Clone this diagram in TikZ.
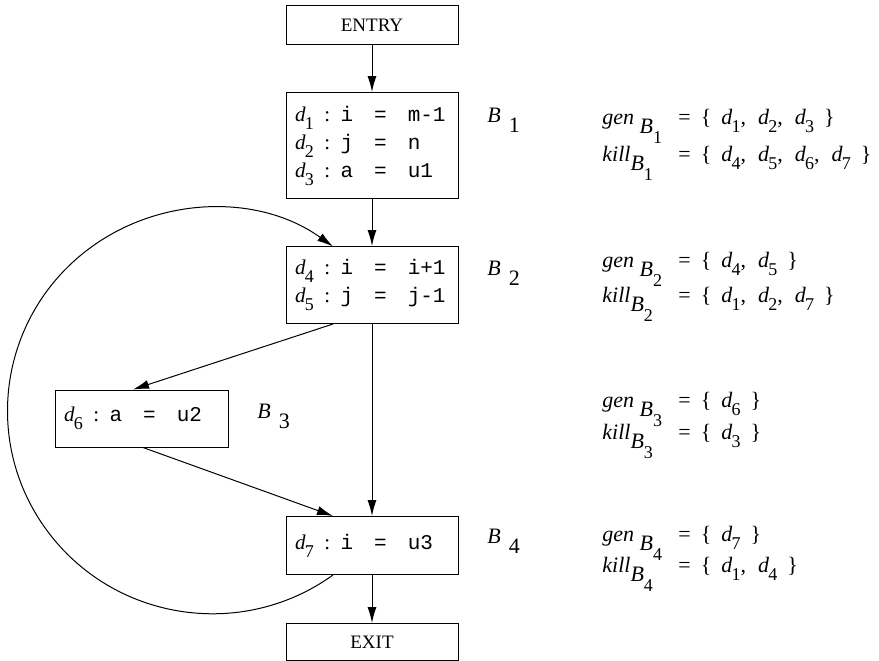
\documentclass[tikz,border=0pt]{standalone}
\usepackage{fontspec}
\setmainfont{Liberation Serif}
\setmonofont{Liberation Mono}
\usetikzlibrary{positioning,arrows.meta}
\newcommand{\dd}[1]{\textit{d}\kern-0.4pt\raisebox{-4pt}{\small #1}}
\newcommand{\subB}[1]{\raisebox{-4.5pt}{\textit{B}\raisebox{-5pt}{\small #1}}}
\newcommand{\blklabel}[1]{\textit{B}\hspace{4pt}\raisebox{-5pt}{#1}}
\newcommand{\setname}[1]{\makebox[38pt][l]{#1}}
\tikzset{
  blockbox/.style={rectangle, draw, line width=0.5pt, inner xsep=4.5pt, text width=77pt,
    align=left, font=\fontsize{10.5}{14}\selectfont},
  endbox/.style={rectangle, draw, line width=0.5pt, minimum width=86pt, minimum height=19.5pt,
    font=\fontsize{9.5}{11}\selectfont},
  flowarrow/.style={-{Latex[length=8pt,width=4.5pt]}, line width=0.5pt},
  rowtext/.style={anchor=base west, inner sep=0pt, font=\fontsize{11}{13}\selectfont}
}
\begin{document}
\begin{tikzpicture}[x=0.5pt, y=0.5pt]
  \useasboundingbox (0,0) rectangle (879,-660);
  % flow graph
  \node[endbox] (entry) at (372,-25) {ENTRY};
  \node[blockbox, minimum height=53pt, below=23.5pt of entry] (b1)
    {\dd{1}\enspace:\enspace\texttt{i\quad=\quad m-1}\\
     \dd{2}\enspace:\enspace\texttt{j\quad=\quad n}\\
     \dd{3}\enspace:\enspace\texttt{a\quad=\quad u1}};
  \node[blockbox, minimum height=38.5pt, below=23.5pt of b1] (b2)
    {\dd{4}\enspace:\enspace\texttt{i\quad=\quad i+1}\\
     \dd{5}\enspace:\enspace\texttt{j\quad=\quad j-1}};
  \node[blockbox, text width=77.5pt, minimum height=28.5pt] (b3) at (141.5,-418.5)
    {\dd{6}\enspace:\enspace\texttt{a\quad=\quad u2}};
  \node[blockbox, minimum height=29pt, below=96pt of b2] (b4)
    {\dd{7}\enspace:\enspace\texttt{i\quad=\quad u3}};
  \node[endbox, minimum height=18.5pt, below=24pt of b4] (exit) {EXIT};
  \draw[flowarrow] (entry) -- (b1);
  \draw[flowarrow] (b1) -- (b2);
  \draw[flowarrow] (b2) -- (b4);
  \draw[flowarrow] ([xshift=-19.5pt]b2.south) -- ([xshift=-4.25pt]b3.north);
  \draw[flowarrow] ([xshift=0.75pt]b3.south) -- ([xshift=-19.5pt]b4.north);
  \draw[flowarrow] (b4) -- (exit);
  \draw[flowarrow] ([xshift=-19.5pt]b4.south)
    arc[start angle=-54, end angle=-306, x radius=205, y radius=203];
  % block names
  \node[rowtext] (nb1) at (487,-122) {\blklabel{1}};
  \node[rowtext] (nb2) at (487,-275) {\blklabel{2}};
  \node[rowtext] (nb3) at (257,-418) {\blklabel{3}};
  \node[rowtext] (nb4) at (487,-543) {\blklabel{4}};
  % gen and kill sets
  \node[rowtext] (gen1) at (602,-124)
    {\setname{\textit{gen}\ \subB{1}}=\hspace{5pt}\{\hspace{5pt}\dd{1},\hspace{6pt}\dd{2},\hspace{6pt}\dd{3}\hspace{5pt}\}};
  \node[rowtext] (kill1) at (602,-161)
    {\setname{\textit{kill}\subB{1}}=\hspace{5pt}\{\hspace{5pt}\dd{4},\hspace{6pt}\dd{5},\hspace{6pt}\dd{6},\hspace{6pt}\dd{7}\hspace{5pt}\}};
  \node[rowtext] (gen2) at (602,-267)
    {\setname{\textit{gen}\ \subB{2}}=\hspace{5pt}\{\hspace{5pt}\dd{4},\hspace{6pt}\dd{5}\hspace{5pt}\}};
  \node[rowtext] (kill2) at (602,-302)
    {\setname{\textit{kill}\subB{2}}=\hspace{5pt}\{\hspace{5pt}\dd{1},\hspace{6pt}\dd{2},\hspace{6pt}\dd{7}\hspace{5pt}\}};
  \node[rowtext] (gen3) at (602,-407)
    {\setname{\textit{gen}\ \subB{3}}=\hspace{5pt}\{\hspace{5pt}\dd{6}\hspace{5pt}\}};
  \node[rowtext] (kill3) at (602,-439)
    {\setname{\textit{kill}\subB{3}}=\hspace{5pt}\{\hspace{5pt}\dd{3}\hspace{5pt}\}};
  \node[rowtext] (gen4) at (602,-541)
    {\setname{\textit{gen}\ \subB{4}}=\hspace{5pt}\{\hspace{5pt}\dd{7}\hspace{5pt}\}};
  \node[rowtext] (kill4) at (602,-572)
    {\setname{\textit{kill}\subB{4}}=\hspace{5pt}\{\hspace{5pt}\dd{1},\hspace{6pt}\dd{4}\hspace{5pt}\}};
\end{tikzpicture}
\end{document}
